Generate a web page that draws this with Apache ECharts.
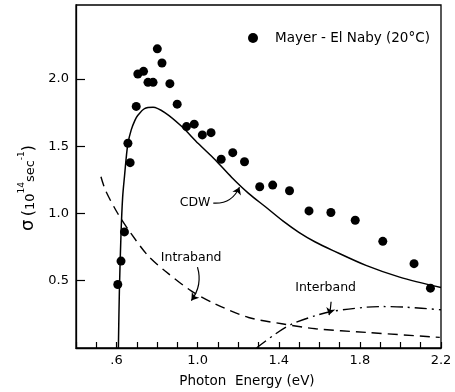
<!DOCTYPE html>
<html>
<head>
<meta charset="utf-8">
<script src="https://cdn.jsdelivr.net/npm/echarts@6/dist/echarts.min.js"></script>
<style>
html,body{margin:0;padding:0;background:#fff;}
#c{width:455px;height:392px;}
</style>
</head>
<body>
<div id="c"></div>
<script>
// Measured data (Mayer - El Naby, 20°C)
var dataX = [0.606, 0.622, 0.639, 0.656, 0.667, 0.697, 0.705, 0.733, 0.755, 0.780, 0.801, 0.824, 0.863, 0.899, 0.945, 0.983, 1.023, 1.066, 1.116, 1.173, 1.231, 1.306, 1.370, 1.453, 1.549, 1.657, 1.777, 1.913, 2.067, 2.148];
var dataY = [0.472, 0.646, 0.863, 1.522, 1.378, 1.796, 2.037, 2.057, 1.975, 1.975, 2.224, 2.119, 1.965, 1.813, 1.646, 1.664, 1.584, 1.601, 1.403, 1.452, 1.385, 1.199, 1.211, 1.169, 1.019, 1.007, 0.950, 0.793, 0.627, 0.445];

// CDW model curve
var cdwX = [0.609, 0.614, 0.622, 0.630, 0.640, 0.648, 0.656, 0.672, 0.690, 0.705, 0.738, 0.780, 0.838, 0.919, 1.003, 1.086, 1.167, 1.251, 1.334, 1.420, 1.499, 1.580, 1.665, 1.830, 1.996, 2.200];
var cdwY = [0.00, 0.43, 0.85, 1.12, 1.29, 1.42, 1.52, 1.62, 1.69, 1.73, 1.78, 1.79, 1.75, 1.65, 1.52, 1.40, 1.27, 1.15, 1.05, 0.945, 0.86, 0.788, 0.726, 0.614, 0.527, 0.45];

// Intraband curve
var intraX = [0.523, 0.546, 0.606, 0.672, 0.755, 0.838, 0.968, 1.086, 1.251, 1.415, 1.582, 1.830, 2.194];
var intraY = [1.273, 1.17, 1.00, 0.85, 0.686, 0.574, 0.425, 0.328, 0.227, 0.180, 0.143, 0.116, 0.079];

// Interband curve
var interX = [1.29, 1.384, 1.466, 1.582, 1.665, 1.830, 1.913, 2.030, 2.200];
var interY = [0.00, 0.105, 0.179, 0.241, 0.273, 0.303, 0.308, 0.303, 0.284];

// Tick labels
var xTickValues = [0.6, 1.0, 1.4, 1.8, 2.2];
var xTickLabels = ['.6', '1.0', '1.4', '1.8', '2.2'];
var yTickValues = [0.5, 1.0, 1.5, 2.0];
var yTickLabels = ['0.5', '1.0', '1.5', '2.0'];

// Annotation labels (data coordinates) and arrows
var annText = ['CDW', 'Intraband', 'Interband'];
var annX = [0.987, 0.968, 1.631];
var annY = [1.077, 0.674, 0.450];
var arrowFrom = [[1.077, 1.077], [0.999, 0.601], [1.658, 0.344]];
var arrowTo = [[1.206, 1.196], [0.969, 0.353], [1.648, 0.245]];
var arrowCurve = [-0.35, 0.25, 0.05];

var legendName = 'Mayer - El Naby (20°C)';

function zip(a, b) { return a.map(function (v, i) { return [v, b[i]]; }); }

var FONT = 'DejaVu Sans';
var chart = echarts.init(document.getElementById('c'), null, {renderer: 'canvas'});

var option = {
  animation: false,
  backgroundColor: '#fff',
  textStyle: {fontFamily: FONT, color: '#000'},
  grid: {left: 76, right: 14, top: 5, bottom: 44, show: true, borderColor: '#000', borderWidth: 1.3, backgroundColor: 'transparent'},
  legend: {
    data: [legendName], left: 243, top: 26, itemWidth: 10, itemHeight: 10, itemGap: 0,
    itemStyle: {opacity: 1, color: '#000'},
    textStyle: {fontFamily: FONT, fontSize: 13.5, color: '#000', padding: [0, 0, 0, 12]}
  },
  xAxis: {
    type: 'value', min: 0.4, max: 2.2, interval: 0.1,
    axisLine: {lineStyle: {color: '#000', width: 1.3}},
    axisTick: {inside: true, length: 6, lineStyle: {color: '#000', width: 1.2}},
    axisLabel: {
      customValues: xTickValues, fontFamily: FONT, fontSize: 13, color: '#000', margin: 6,
      formatter: function (v) { var i = xTickValues.findIndex(function (t) { return Math.abs(t - v) < 1e-6; }); return i >= 0 ? xTickLabels[i] : ''; }
    },
    splitLine: {show: false}
  },
  yAxis: {
    type: 'value', min: 0, max: 2.55, interval: 0.5,
    axisLine: {lineStyle: {color: '#000', width: 1.3}},
    axisTick: {inside: true, length: 9, customValues: yTickValues, lineStyle: {color: '#000', width: 1.2}},
    axisLabel: {
      customValues: yTickValues, fontFamily: FONT, fontSize: 13, color: '#000', margin: 7,
      formatter: function (v) { var i = yTickValues.findIndex(function (t) { return Math.abs(t - v) < 1e-6; }); return i >= 0 ? yTickLabels[i] : ''; }
    },
    splitLine: {show: false}
  },
  graphic: [
    {
      type: 'text', x: 27, y: 188, rotation: Math.PI / 2,
      style: {
        text: '{s|σ} {p|(}{n|10}{u|14}{n|sec}{u|-1}{p|)}',
        align: 'center', verticalAlign: 'middle', fill: '#000',
        rich: {
          s: {fontFamily: FONT, fontSize: 18, fill: '#000', verticalAlign: 'bottom', lineHeight: 20},
          p: {fontFamily: FONT, fontSize: 16, fill: '#000', verticalAlign: 'bottom', lineHeight: 20},
          n: {fontFamily: FONT, fontSize: 13, fill: '#000', verticalAlign: 'bottom', lineHeight: 20},
          u: {fontFamily: FONT, fontSize: 9, fill: '#000', verticalAlign: 'top', lineHeight: 20}
        }
      }
    },
    {
      type: 'text', x: 247, y: 381,
      style: {text: 'Photon  Energy (eV)', font: '13.5px "DejaVu Sans"', fill: '#000', align: 'center', verticalAlign: 'middle'}
    }
  ],
  series: [
    {
      name: 'CDW', type: 'line', data: zip(cdwX, cdwY), showSymbol: false, smooth: 0.3,
      lineStyle: {color: '#000', width: 1.5}, z: 3
    },
    {
      name: 'Intraband', type: 'line', data: zip(intraX, intraY), showSymbol: false, smooth: 0.3,
      lineStyle: {color: '#000', width: 1.4, type: [10, 6]}, z: 3
    },
    {
      name: 'Interband', type: 'line', data: zip(interX, interY), showSymbol: false, smooth: 0.3,
      lineStyle: {color: '#000', width: 1.4, type: [12, 5, 2, 5]}, z: 3
    },
    {
      name: legendName, type: 'scatter', data: zip(dataX, dataY), symbol: 'circle', symbolSize: 9,
      itemStyle: {color: '#000', opacity: 1}, z: 5
    },
    {
      name: 'labels', type: 'scatter', symbolSize: 0, silent: true,
      itemStyle: {opacity: 1},
      data: annText.map(function (t, i) { return {value: [annX[i], annY[i]], name: t}; }),
      label: {show: true, position: 'inside', formatter: '{b}', fontFamily: FONT, fontSize: 12.5, color: '#000'}
    },
    {
      name: 'arrows', type: 'lines', coordinateSystem: 'cartesian2d', silent: true,
      symbol: ['none', 'arrow'], symbolSize: 7,
      data: arrowFrom.map(function (f, i) { return {coords: [f, arrowTo[i]], lineStyle: {curveness: arrowCurve[i]}}; }),
      lineStyle: {color: '#000', width: 1.2, opacity: 1}
    }
  ]
};
chart.setOption(option);
</script>
</body>
</html>
